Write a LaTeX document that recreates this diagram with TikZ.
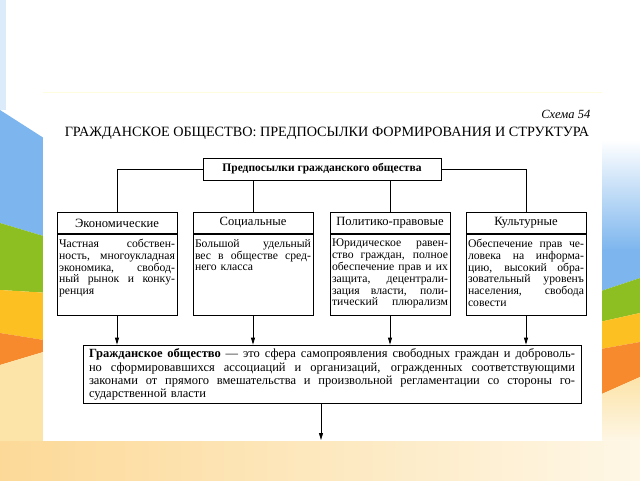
\documentclass[tikz,border=0pt]{standalone}
\usepackage{fontspec}
\setmainfont{Liberation Serif}
\usetikzlibrary{arrows.meta}
\newcommand\jl[1]{\makebox[\hsize][s]{\spaceskip=0pt\xspaceskip=0pt #1}}
\definecolor{bgblue}{HTML}{7DB6EE}
\definecolor{bggreen}{HTML}{8DBF22}
\definecolor{bgyellow}{HTML}{FCC022}
\definecolor{bgorange}{HTML}{F68A2C}
\definecolor{bgcream}{HTML}{FCE3A8}
\definecolor{bgpale}{HTML}{FEF7E6}
\definecolor{bgfaint}{HTML}{DCEBFA}
\begin{document}
\begin{tikzpicture}[x=1pt,y=-1pt,line width=0.8pt,
  hdr/.style={draw, minimum width=120pt, minimum height=21pt, inner sep=0pt,
    font=\fontsize{12.6}{14}\selectfont},
  bodyb/.style={draw, minimum width=120pt, minimum height=81pt, inner sep=0pt},
  btxt/.style={anchor=north west, text width=116pt, inner sep=0pt, align=left,
    font=\fontsize{11.7}{11.8}\selectfont},
  arr/.style={-{Triangle[width=4pt,length=7pt]}}]
\useasboundingbox (0,0) rectangle (640,480);
% ---------- slide background ----------
\fill[white] (0,0) rectangle (640,480);
\fill[bgfaint] (0,0) rectangle (6,110);
% bottom band
\shade[left color=bgcream!90!orange, right color=bgpale] (0,441) rectangle (640,480);
% left strip
\fill[bgblue] (0,110) -- (50,142) -- (50,238) -- (0,223) -- cycle;
\fill[bggreen] (0,223) -- (50,238) -- (50,293) -- (0,290) -- cycle;
\fill[bgyellow] (0,290) -- (50,293) -- (50,341) -- (0,333) -- cycle;
\fill[bgorange] (0,333) -- (50,341) -- (50,350) -- (0,365) -- cycle;
\fill[bgcream] (0,365) -- (50,350) -- (50,441) -- (0,441) -- cycle;
% right strip
\shade[top color=white, bottom color=bgblue] (595,140) rectangle (640,250);
\fill[bgblue] (595,249) -- (640,249) -- (640,278) -- (595,293) -- cycle;
\fill[bggreen] (595,293) -- (640,278) -- (640,313) -- (595,323) -- cycle;
\fill[bgyellow] (595,323) -- (640,313) -- (640,342) -- (595,350) -- cycle;
\fill[bgorange] (595,350) -- (640,342) -- (640,377) -- (595,397) -- cycle;
\shade[top color=bgcream, bottom color=bgpale] (595,397) -- (640,377) -- (640,441) -- (595,441) -- cycle;
% scan page
\fill[white] (43,92) rectangle (602,441);
\draw[line width=0.6pt, yellow!12] (43,92) -- (602,92);
% ---------- diagram ----------
\node[anchor=east, font=\itshape\fontsize{12.5}{14}\selectfont] (schema) at (594,114) {Схема 54};
\node[font=\fontsize{14.2}{16}\selectfont] (title) at (327,133) {ГРАЖДАНСКОЕ ОБЩЕСТВО: ПРЕДПОСЫЛКИ ФОРМИРОВАНИЯ И СТРУКТУРА};
\node[draw, minimum width=238pt, minimum height=22pt, inner sep=0pt,
  font=\bfseries\fontsize{11.5}{13}\selectfont] (pre) at (322,169) {Предпосылки гражданского общества};
% headers
\node[hdr, anchor=north] (eh) at (117,212) {Экономические};
\node[hdr, anchor=north] (sh) at (253,212) {Социальные};
\node[hdr, anchor=north] (ph) at (390,212) {Политико-правовые};
\node[hdr, anchor=north] (ch) at (526,212) {Культурные};
% bodies
\node[bodyb, anchor=north] (eb) at (eh.south) {};
\node[bodyb, anchor=north] (sb) at (sh.south) {};
\node[bodyb, anchor=north] (pb) at (ph.south) {};
\node[bodyb, anchor=north] (cb) at (ch.south) {};
\node[btxt] (et) at ([xshift=2pt,yshift=-5pt]eb.north west)
 {\jl{Частная собствен-}\\\jl{ность, многоукладная}\\\jl{экономика, свобод-}\\\jl{ный рынок и конку-}\\ренция};
\node[btxt] (st) at ([xshift=2pt,yshift=-5pt]sb.north west)
 {\jl{Большой удельный}\\\jl{вес в обществе сред-}\\него класса};
\node[btxt] (pt) at ([xshift=2pt,yshift=-5pt]pb.north west)
 {\jl{Юридическое равен-}\\\jl{ство граждан, полное}\\\jl{обеспечение прав и их}\\\jl{защита, децентрали-}\\\jl{зация власти, поли-}\\\jl{тический плюрализм}};
\node[btxt] (ct) at ([xshift=2pt,yshift=-5pt]cb.north west)
 {\jl{Обеспечение прав че-}\\\jl{ловека на информа-}\\\jl{цию, высокий обра-}\\\jl{зовательный уровенъ}\\\jl{населения, свобода}\\совести};
% bottom box
\node[draw, minimum width=498pt, minimum height=58pt, inner sep=0pt] (bb) at (332,374) {};
\node[anchor=north west, text width=486pt, inner sep=0pt, align=left,
  font=\fontsize{12.5}{13.3}\selectfont] (bt) at ([xshift=6pt,yshift=-4pt]bb.north west)
 {\jl{\textbf{Гражданское общество} — это сфера самопроявления свободных граждан и доброволь-}\\
  \jl{но сформировавшихся ассоциаций и организаций, огражденных соответствующими}\\
  \jl{законами от прямого вмешательства и произвольной регламентации со стороны го-}\\
  сударственной власти};
\coordinate (out) at (321,440);
% connectors
\draw (pre.west) -| (eh.north);
\draw (pre.east) -| (ch.north);
\draw (sh.north |- pre.south) -- (sh.north);
\draw (ph.north |- pre.south) -- (ph.north);
\draw[arr] (eb.south) -- (eb.south |- bb.north);
\draw[arr] (sb.south) -- (sb.south |- bb.north);
\draw[arr] (pb.south) -- (pb.south |- bb.north);
\draw[arr] (cb.south) -- (cb.south |- bb.north);
\draw[arr] (bb.south -| out) -- (out);
\end{tikzpicture}
\end{document}
